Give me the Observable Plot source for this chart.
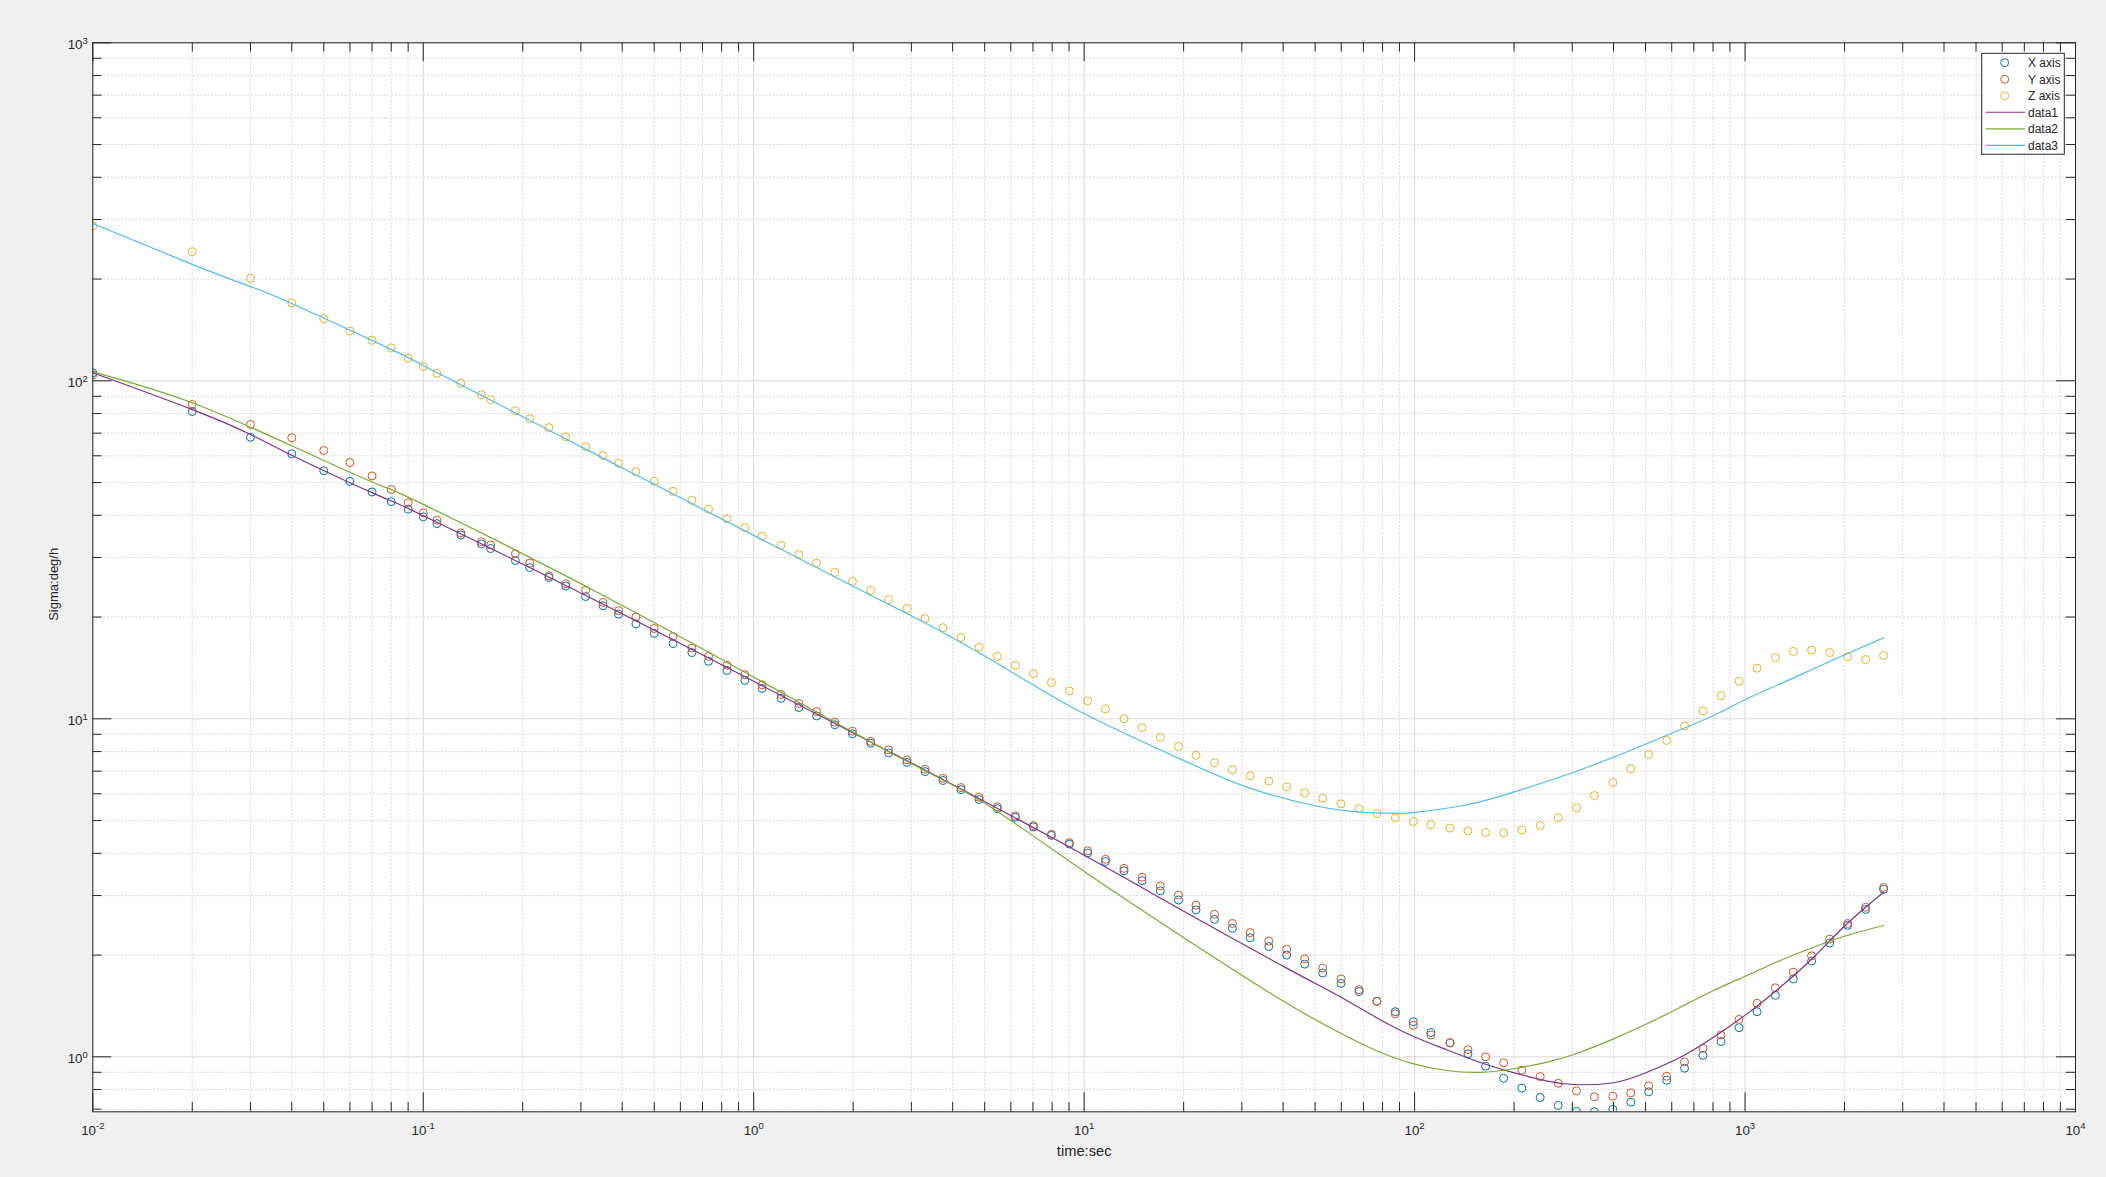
<!DOCTYPE html>
<html><head><meta charset="utf-8">
<script src="https://cdn.jsdelivr.net/npm/d3@7"></script>
<script src="https://cdn.jsdelivr.net/npm/@observablehq/plot@0.6"></script>
<style>
html,body{margin:0;padding:0;background:#f0f0f0;overflow:hidden;}
#chart{position:relative;width:2106px;height:1177px;}
</style></head><body><div id="chart"></div>
<script>
// ---- data ----
const tau = [0.01,0.02,0.03,0.04,0.05,0.06,0.07,0.08,0.09,0.1,
0.11,0.13,0.15,0.16,0.19,0.21,0.24,0.27,0.31,0.35,0.39,0.44,0.5,0.57,0.65,0.73,0.83,0.94,1.06,1.21,1.37,1.55,1.76,1.99,2.26,
2.56,2.91,3.3,3.74,4.24,4.81,5.46,6.19,7.02,7.96,9.02,10.25,11.6,13.2,14.97,17,19.3,21.8,24.8,28.1,31.8,36.2,41,46.5,52.7,59.9,67.9,76.9,87.4,
99.1,112,128,145,164,186,211,240,272,309,350,398,451,511,579,656,746,846,959,1087,1235,1400,1590,1803,2044,2317,2626];

const sigmaX = [105.6,81.1,68.1,60.8,54.2,50.4,46.9,43.9,41.7,39.6,
37.8,35.0,32.9,31.9,29.4,28.0,26.2,24.7,23.0,21.6,20.4,19.1,17.9,16.7,15.7,14.8,13.9,13.0,12.3,11.5,10.8,10.2,9.60,9.03,8.47,
7.93,7.43,6.98,6.57,6.17,5.77,5.42,5.11,4.79,4.52,4.26,4.01,3.78,3.55,3.32,3.10,2.91,2.72,2.55,2.40,2.25,2.12,2.00,1.88,1.77,1.65,1.56,1.46,1.36,
1.27,1.18,1.10,1.02,0.938,0.864,0.808,0.758,0.718,0.690,0.688,0.699,0.734,0.788,0.853,0.925,1.01,1.11,1.22,1.36,1.52,1.70,1.92,2.17,2.45,2.73,3.13];

const sigmaY = [104.2,85.1,74.3,67.8,62.2,57.3,52.3,47.7,43.6,40.7,
38.7,35.5,33.4,32.7,30.8,28.9,26.5,25.1,24.0,22.1,20.9,20.0,18.5,17.5,16.2,15.3,14.4,13.5,12.6,11.8,11.1,10.5,9.77,9.19,8.58,
8.09,7.56,7.09,6.67,6.26,5.86,5.49,5.16,4.83,4.55,4.30,4.07,3.84,3.61,3.40,3.20,3.01,2.81,2.64,2.48,2.33,2.20,2.08,1.95,1.83,1.70,1.58,1.46,1.34,
1.24,1.16,1.10,1.05,1.00,0.96,0.913,0.874,0.835,0.793,0.762,0.765,0.782,0.821,0.876,0.966,1.06,1.16,1.29,1.44,1.60,1.78,1.99,2.23,2.48,2.77,3.17];

const sigmaZ = [287,241,201,170,152.6,140.5,131.8,125.2,116.7,110.2,
105.3,98.4,90.9,87.9,81.5,77.2,72.7,68.3,63.8,60.1,57.0,53.8,50.5,47.1,44.3,41.7,39.1,36.8,34.7,32.6,30.6,28.9,27.1,25.5,24.0,
22.5,21.2,19.8,18.6,17.4,16.3,15.3,14.4,13.6,12.8,12.1,11.3,10.7,10.0,9.41,8.81,8.28,7.80,7.41,7.07,6.78,6.54,6.29,6.04,5.82,5.60,5.42,5.24,5.10,
4.97,4.86,4.75,4.66,4.61,4.60,4.69,4.83,5.10,5.45,5.93,6.48,7.11,7.84,8.63,9.53,10.56,11.70,12.92,14.12,15.18,15.82,15.96,15.71,15.26,14.98,15.39];

// fitted curves (read at their own tau positions)
const fit1Tau = [0.01,0.02,0.03,0.0425,0.0742,0.1,0.44,2.42,2.78,7.96,19.3,41,59.9,78.7,99.3,125,158,199,252,303,400,505,637,803,1013,1278,1612,2034,2626];
const fit1    = [105.6,82.2,69.4,58.5,45.5,39.9,19.5,8.24,7.70,4.46,2.75,1.83,1.50,1.287,1.148,1.049,0.962,0.898,0.847,0.828,0.838,0.900,0.997,1.143,1.340,1.607,1.971,2.475,3.069];
const fit2Tau = [0.01,0.02,0.0425,0.0742,0.1,0.44,2.42,4.85,9.74,19.5,39.2,62.4,78.7,99.3,125,158,199,252,317,400,505,637,803,1013,1278,1612,2034,2626];
const fit2    = [106.3,86.1,62.5,49.0,43.1,20.6,8.24,5.73,3.60,2.29,1.48,1.148,1.032,0.953,0.911,0.900,0.922,0.964,1.032,1.130,1.252,1.402,1.571,1.740,1.927,2.110,2.285,2.446];
const fit3Tau = [0.01,0.02,0.03,0.04,0.08,0.1,0.13,0.21,0.31,0.5,1.06,2.26,3.74,6.19,10,19.5,31.1,49.5,70.1,90.5,99.3,140.7,199.3,302.8,449.5,636.9,803,1013,1278,1612,2034,2626];
const fit3    = [292,221,190,169.3,123.9,111.0,97.3,76.4,62.8,49.4,33.9,23.2,18.0,13.55,10.35,7.61,6.28,5.54,5.29,5.26,5.28,5.54,6.07,6.95,8.06,9.28,10.23,11.46,12.69,14.06,15.57,17.36];

const seriesNames = ["X axis","Y axis","Z axis","data1","data2","data3"];
const seriesColors = ["#0072BD","#D95319","#EDB120","#7E2F8E","#77AC30","#4DBEEE"];

const xDecades = [1e-2,1e-1,1,1e1,1e2,1e3,1e4];
const xTickExp = ["-2","-1","0","1","2","3","4"];
const yDecades = [1,10,100,1000];
const yTickExp = ["0","1","2","3"];
const xLabel = "time:sec";
const yLabel = "Sigma:deg/h";
const xDomain = [0.01, 10000];
const yDomain = [0.6876, 1000];

// ---- layout ----
const W = 2106, H = 1177;
const mL = 92.3, mR = 31, mT = 42.3, mB = 65.7;
const fw = W - mL - mR, fh = H - mT - mB;
const majorLen = 19, minorLen = 9.3;
const axisColor = "#262626";
const labelColor = "#262627"; // used to find the tick labels afterwards
const font = "'Liberation Sans', Arial, Helvetica, sans-serif";

const minorOf = (decs, dom) => decs.flatMap(d => [2,3,4,5,6,7,8,9].map(k => d*k))
  .concat(decs.map(d => d/10).flatMap(d => [2,3,4,5,6,7,8,9].map(k => d*k)))
  .filter(v => v > dom[0] && v < dom[1] && !decs.includes(v));
const xMinor = Array.from(new Set(minorOf(xDecades, xDomain)));
const yMinor = Array.from(new Set(minorOf(yDecades, yDomain)));

const pts = tau.map((t,i) => ({tau:t, x:sigmaX[i], y:sigmaY[i], z:sigmaZ[i]}));
const line1 = fit1Tau.map((t,i)=>({t, v:fit1[i]}));
const line2 = fit2Tau.map((t,i)=>({t, v:fit2[i]}));
const line3 = fit3Tau.map((t,i)=>({t, v:fit3[i]}));

const gridC = "#dadada";
const svg = Plot.plot({
  width: W, height: H,
  marginLeft: mL, marginRight: mR, marginTop: mT, marginBottom: mB,
  style: {background: "transparent", fontFamily: font, color: axisColor},
  x: {type: "log", domain: xDomain, axis: null},
  y: {type: "log", domain: yDomain, axis: null},
  marks: [
    Plot.frame({fill: "white", stroke: "none"}),
    // grid
    Plot.ruleX(xMinor, {x: d=>d, stroke: gridC, strokeWidth: 1, strokeDasharray: "2,1.6"}),
    Plot.ruleY(yMinor, {y: d=>d, stroke: gridC, strokeWidth: 1, strokeDasharray: "2,1.6"}),
    Plot.ruleX(xDecades, {x: d=>d, stroke: gridC, strokeWidth: 1}),
    Plot.ruleY(yDecades, {y: d=>d, stroke: gridC, strokeWidth: 1}),
    // data markers
    Plot.dot(pts, {x: "tau", y: "x", r: 4, stroke: seriesColors[0], strokeWidth: 1, fill: "none", clip: true}),
    Plot.dot(pts, {x: "tau", y: "y", r: 4, stroke: seriesColors[1], strokeWidth: 1, fill: "none", clip: true}),
    Plot.dot(pts, {x: "tau", y: "z", r: 4, stroke: seriesColors[2], strokeWidth: 1, fill: "none", clip: true}),
    // fits
    Plot.line(line1, {x: "t", y: "v", stroke: seriesColors[3], strokeWidth: 1.2, curve: "natural", clip: true}),
    Plot.line(line2, {x: "t", y: "v", stroke: seriesColors[4], strokeWidth: 1.2, curve: "natural", clip: true}),
    Plot.line(line3, {x: "t", y: "v", stroke: seriesColors[5], strokeWidth: 1.2, curve: "natural", clip: true}),
    // ticks (inside, all four sides)
    Plot.ruleX(xDecades, {x: d=>d, stroke: axisColor, insetTop: fh - majorLen}),
    Plot.ruleX(xDecades, {x: d=>d, stroke: axisColor, insetBottom: fh - majorLen}),
    Plot.ruleX(xMinor, {x: d=>d, stroke: axisColor, insetTop: fh - minorLen}),
    Plot.ruleX(xMinor, {x: d=>d, stroke: axisColor, insetBottom: fh - minorLen}),
    Plot.ruleY(yDecades, {y: d=>d, stroke: axisColor, insetRight: fw - majorLen}),
    Plot.ruleY(yDecades, {y: d=>d, stroke: axisColor, insetLeft: fw - majorLen}),
    Plot.ruleY(yMinor, {y: d=>d, stroke: axisColor, insetRight: fw - minorLen}),
    Plot.ruleY(yMinor, {y: d=>d, stroke: axisColor, insetLeft: fw - minorLen}),
    Plot.frame({stroke: axisColor, strokeWidth: 1}),
    // tick labels
    Plot.text(xDecades, {x: d=>d, text: (d,i)=>xTickExp[i], frameAnchor: "bottom", textAnchor: "middle", lineAnchor: "bottom", dy: 23, fontSize: 13.33, fill: labelColor}),
    Plot.text(yDecades, {y: d=>d, text: (d,i)=>yTickExp[i], frameAnchor: "left", textAnchor: "end", lineAnchor: "bottom", dx: -5, dy: 6.5, fontSize: 13.33, fill: labelColor}),
    // axis titles
    Plot.text([xLabel], {text: d=>d, frameAnchor: "bottom", textAnchor: "middle", lineAnchor: "bottom", dy: 44, fontSize: 14.7, fill: axisColor}),
    Plot.text([yLabel], {text: d=>d, frameAnchor: "left", textAnchor: "middle", rotate: -90, lineAnchor: "middle", dx: -38.6, dy: 7, fontSize: 13, fill: axisColor})
  ]
});

// superscript exponents on tick labels
d3.select(svg).selectAll("text").filter(function(){
  const c = this.getAttribute("fill") || (this.parentNode && this.parentNode.getAttribute && this.parentNode.getAttribute("fill"));
  return c === labelColor;
}).each(function(){
  const e = this.textContent;
  const s = d3.select(this);
  s.text(null);
  s.append("tspan").text("10");
  s.append("tspan").attr("dy", -5.5).attr("font-size", "9.5px").text(e);
});

// legend (inside top-right of the axes)
const lg = d3.select(svg).append("g").attr("font-family", font).attr("font-size", 12).attr("text-anchor", "start");
const lgRight = W - mR - 10.7, lgTop = mT + 11, lgW = 82.6, rowH = 16.52;
const lgX = lgRight - lgW;
lg.append("rect").attr("x", lgX).attr("y", lgTop).attr("width", lgW).attr("height", rowH*6 + 1.8)
  .attr("fill", "white").attr("stroke", axisColor).attr("stroke-width", 1);
seriesNames.forEach((name, i) => {
  const cy = lgTop + 9.4 + i*rowH;
  if (i < 3) {
    lg.append("circle").attr("cx", lgX + 23).attr("cy", cy).attr("r", 4)
      .attr("fill", "none").attr("stroke", seriesColors[i]).attr("stroke-width", 1);
  } else {
    lg.append("line").attr("x1", lgX + 4).attr("x2", lgX + 43.3).attr("y1", cy).attr("y2", cy)
      .attr("stroke", seriesColors[i]).attr("stroke-width", 1.2);
  }
  lg.append("text").attr("x", lgX + 46.3).attr("y", cy + 4.3).attr("fill", axisColor).attr("text-anchor", "start").text(name);
});

document.getElementById("chart").appendChild(svg);
</script>
</body></html>
